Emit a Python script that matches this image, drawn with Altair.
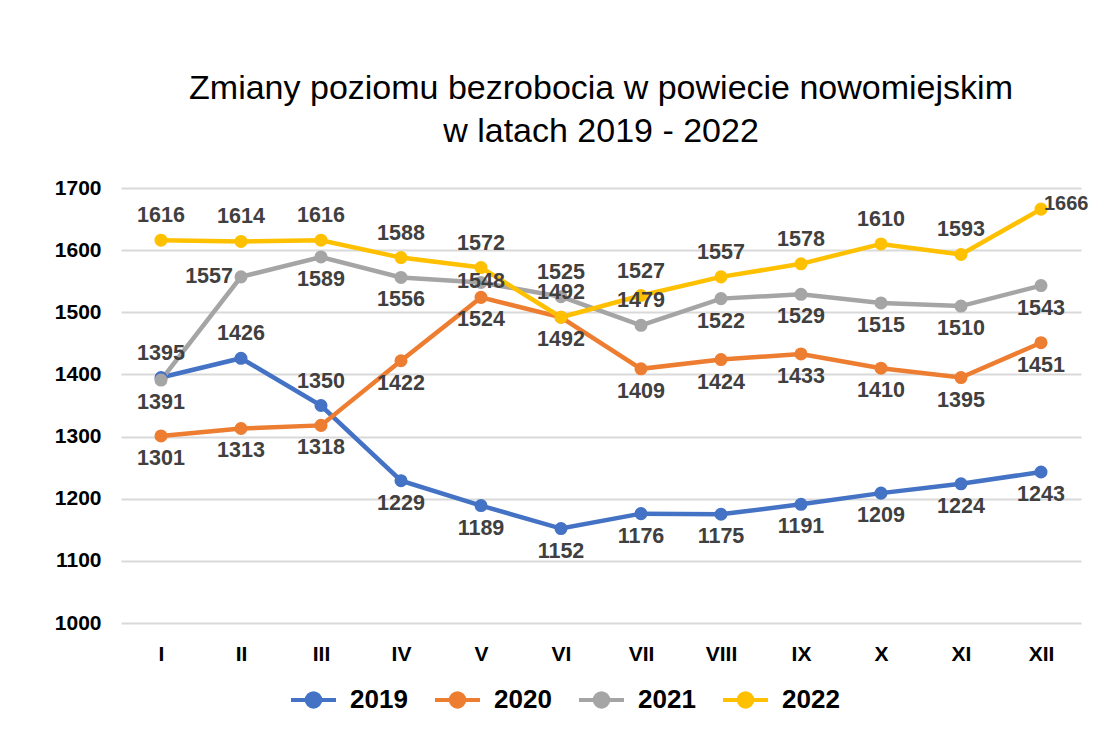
import altair as alt
import pandas as pd

months = ["I", "II", "III", "IV", "V", "VI", "VII", "VIII", "IX", "X", "XI", "XII"]
years = ["2019", "2020", "2021", "2022"]
colors = ["#4472C4", "#ED7D31", "#A5A5A5", "#FFC000"]

v2019 = [1395, 1426, 1350, 1229, 1189, 1152, 1176, 1175, 1191, 1209, 1224, 1243]
v2020 = [1301, 1313, 1318, 1422, 1524, 1492, 1409, 1424, 1433, 1410, 1395, 1451]
v2021 = [1391, 1557, 1589, 1556, 1548, 1525, 1479, 1522, 1529, 1515, 1510, 1543]
v2022 = [1616, 1614, 1616, 1588, 1572, 1492, 1527, 1557, 1578, 1610, 1593, 1666]

# data label placement relative to the point
p2019 = ["above", "above", "above"] + ["below"] * 9
p2020 = ["below"] * 12
p2021 = ["below", "left", "below", "below", "center", "above", "above",
         "below", "below", "below", "below", "below"]
p2022 = ["above"] * 11 + ["right"]

rows = []
for y, vals, pos in zip(years, [v2019, v2020, v2021, v2022], [p2019, p2020, p2021, p2022]):
    for m, v, p in zip(months, vals, pos):
        rows.append({"month": m, "year": y, "value": v, "pos": p})
df = pd.DataFrame(rows)

FONT = "Liberation Sans"

x = alt.X("month:N", sort=months, title=None,
          scale=alt.Scale(padding=0.5),
          axis=alt.Axis(labelAngle=0, domain=False, ticks=False, grid=False,
                        labelFont=FONT, labelFontSize=21, labelFontWeight="bold",
                        labelColor="#000000", labelPadding=20))
y = alt.Y("value:Q", title=None,
          scale=alt.Scale(domain=[1000, 1700], nice=False, zero=False),
          axis=alt.Axis(values=list(range(1000, 1701, 100)), format="d", domain=False, ticks=False,
                        grid=True, gridColor="#D9D9D9", gridWidth=2,
                        labelFont=FONT, labelFontSize=21, labelFontWeight="bold",
                        labelColor="#000000", labelPadding=20))

sym_path = "M-1,0L1,0M-0.3,0A0.3,0.3,0,1,1,0.3,0A0.3,0.3,0,1,1,-0.3,0Z"
legend = alt.Legend(title=None, orient="none", direction="horizontal",
                    legendX=168, legendY=487,
                    symbolType=sym_path, symbolSize=2025, symbolStrokeWidth=4,
                    labelFont=FONT, labelFontSize=26, labelFontWeight="bold",
                    labelColor="#000000", labelOffset=12, columnPadding=19)

stroke = alt.Stroke("year:N", scale=alt.Scale(domain=years, range=colors), legend=legend)
fill = alt.Fill("year:N", scale=alt.Scale(domain=years, range=colors), legend=legend)

base = alt.Chart(df).encode(x=x, y=y)

lines = base.mark_line(strokeWidth=4.5).encode(stroke=stroke, detail="year:N")
points = base.mark_point(filled=True, size=170, opacity=1, shape="circle").encode(fill=fill)

def labels(pos, size=21.5, **kw):
    return base.transform_filter(alt.datum.pos == pos).mark_text(
        font=FONT, fontSize=size, fontWeight="bold", color="#404040", **kw
    ).encode(text="value:Q")

txt_above = labels("above", dy=-24, baseline="middle", align="center")
txt_below = labels("below", dy=23, baseline="middle", align="center")
txt_left = labels("left", dx=-8, baseline="middle", align="right")
txt_right = labels("right", size=20, dx=3, dy=-5, baseline="middle", align="left")
txt_center = labels("center", baseline="middle", align="center")

chart = alt.layer(lines, points, txt_above, txt_below, txt_left, txt_right, txt_center).properties(
    width=960, height=435,
    title=alt.TitleParams(
        text=["Zmiany poziomu bezrobocia w powiecie nowomiejskim", "w latach 2019 - 2022"],
        font=FONT, fontSize=34, fontWeight="normal", color="#000000",
        anchor="middle", lineHeight=43, offset=28),
    autosize=alt.AutoSizeParams(type="none"),
    padding={"left": 113, "top": 180, "right": 10, "bottom": 104},
    background="white",
).configure_view(stroke=None)

chart.save("out.html", embed_options={"renderer": "svg", "actions": False})
